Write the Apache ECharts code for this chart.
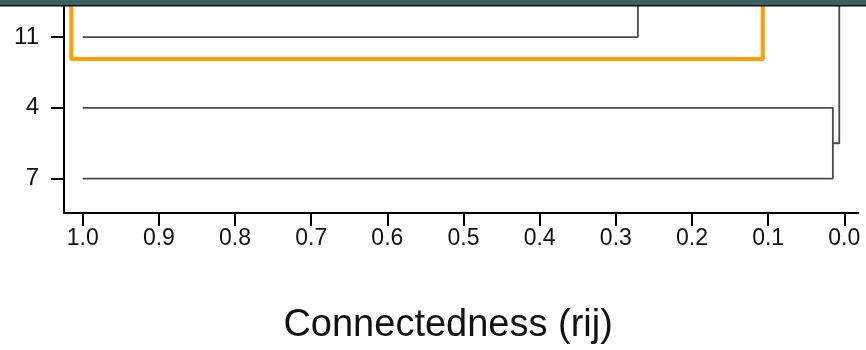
<!DOCTYPE html>
<html>
<head>
<meta charset="utf-8">
<script src="https://cdn.jsdelivr.net/npm/echarts@6/dist/echarts.min.js"></script>
<style>
  html, body { margin: 0; padding: 0; background: #ffffff; }
  #chart { width: 866px; height: 350px; }
</style>
</head>
<body>
<div id="chart"></div>
<script>
// Leaves, bottom to top (y position = index)
const leafNames = ['7', '4', '11'];
// Connectedness where each leaf line starts
const leafStart = [1.0, 1.0, 1.0];
// Connectedness where each leaf joins its first cluster
const leafJoin = [0.015, 0.015, 0.271];
// Level at which the (4,7) cluster joins the group above
const pairJoin = 0.0066;
// Highlighted cluster box: connectedness bounds and lower edge (leaf units)
const boxX = [1.015, 0.107];
const boxBottom = 1.69;
// X tick values
const xTicks = [0.0, 0.1, 0.2, 0.3, 0.4, 0.5, 0.6, 0.7, 0.8, 0.9, 1.0];
// Y tick positions (leaf indices)
const yTicks = [0, 1, 2];

// Branches continue upward past the plotted area
const ABOVE = 4;

const font = "'Liberation Sans', Arial, sans-serif";

// Branch paths
const leaf11 = [
  [leafStart[2], 2], [leafJoin[2], 2], [leafJoin[2], ABOVE]
];
const pair47 = [
  [leafStart[1], 1], [leafJoin[1], 1], [leafJoin[0], 0], [leafStart[0], 0]
];
const pairLink = [
  [leafJoin[0], 0.5], [pairJoin, 0.5], [pairJoin, ABOVE]
];
const box = [
  [boxX[0], ABOVE], [boxX[0], boxBottom], [boxX[1], boxBottom], [boxX[1], ABOVE]
];

const branchStyle = { color: '#4a4a4a', width: 1.8 };

function branch(data, style) {
  return {
    type: 'line',
    data: data,
    symbol: 'none',
    clip: true,
    silent: true,
    lineStyle: style,
    animation: false
  };
}

const chart = echarts.init(document.getElementById('chart'), null, { renderer: 'canvas' });
chart.setOption({
  backgroundColor: '#ffffff',
  animation: false,
  grid: { left: 64, right: 7.7, top: 0, bottom: 133.3, containLabel: false },
  xAxis: {
    type: 'value',
    inverse: true,
    min: -0.0184,
    max: 1.0246,
    splitLine: { show: false },
    axisLine: { show: true, onZero: false, lineStyle: { color: '#000', width: 2 } },
    axisTick: { show: true, customValues: xTicks, length: 13, lineStyle: { color: '#000', width: 2 } },
    axisLabel: {
      show: true,
      customValues: xTicks,
      formatter: v => v.toFixed(1),
      fontFamily: font,
      fontSize: 23,
      color: '#111',
      margin: 14
    },
    name: 'Connectedness (rij)',
    nameLocation: 'middle',
    nameGap: 94,
    nameTextStyle: { fontFamily: font, fontSize: 38, color: '#111', padding: [0, 26, 0, 0] }
  },
  yAxis: {
    type: 'value',
    min: -0.486,
    max: 2.524,
    splitLine: { show: false },
    axisLine: { show: true, onZero: false, lineStyle: { color: '#000', width: 2 } },
    axisTick: { show: true, customValues: yTicks, length: 13, lineStyle: { color: '#000', width: 2 } },
    axisLabel: {
      show: true,
      customValues: yTicks,
      formatter: v => leafNames[Math.round(v)],
      fontFamily: font,
      fontSize: 24,
      color: '#111',
      margin: 25
    }
  },
  series: [
    branch(leaf11, branchStyle),
    branch(pair47, branchStyle),
    branch(pairLink, branchStyle),
    branch(box, { color: '#ff9f00', width: 4, join: 'round' })
  ],
  graphic: [
    { type: 'rect', left: 0, top: 0, z: 100, shape: { width: 866, height: 5 }, style: { fill: '#3b6161' } },
    { type: 'rect', left: 0, top: 5, z: 100, shape: { width: 866, height: 1.5 }, style: { fill: '#111' } }
  ]
});
</script>
</body>
</html>
